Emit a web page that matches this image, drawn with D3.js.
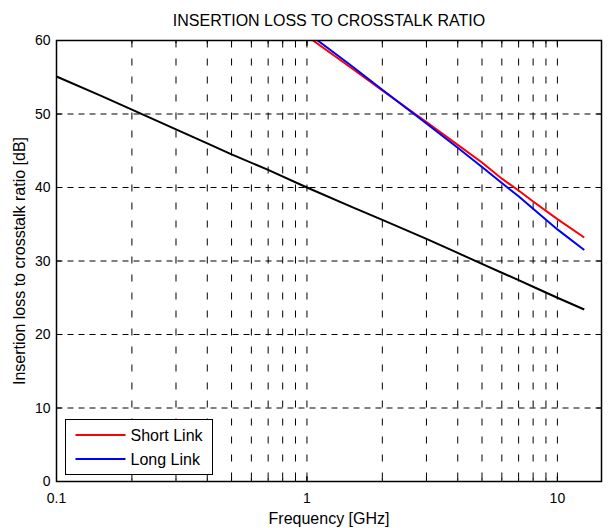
<!DOCTYPE html>
<html>
<head>
<meta charset="utf-8">
<script src="https://d3js.org/d3.v7.min.js"></script>
<style>
  body { margin: 0; background: #fff; }
  text { font-family: "Liberation Sans", Arial, sans-serif; fill: #000; }
</style>
</head>
<body>
<div id="graph"></div>
<script>

// data
var freqRef = [0.1, 0.15, 0.2, 0.3, 0.4, 0.5, 0.7, 1, 1.5, 2, 3, 4, 5, 6, 7, 8, 10, 12.8];
var ilRef   = [55.1, 52.5, 50.6, 47.9, 46.0, 44.5, 42.4, 40.0, 37.4, 35.6, 33.0, 31.1, 29.6, 28.4, 27.4, 26.5, 25.0, 23.4];

var freqLinks = [1, 1.5, 2, 3, 4, 5, 6, 7, 8, 10, 12.8];
var shortLink = [60.6, 56.3, 53.2, 48.9, 45.8, 43.4, 41.2, 39.6, 38.1, 35.7, 33.2];
var longLink  = [61.1, 56.6, 53.3, 48.7, 45.4, 42.8, 40.6, 38.8, 37.1, 34.3, 31.5];

var xMajor = [0.1, 1, 10];
var xLabels = ["0.1", "1", "10"];
var yTicks = [0, 10, 20, 30, 40, 50, 60];

var series = [
  {name: "Short Link", freq: freqLinks, vals: shortLink, color: "#ff0000"},
  {name: "Long Link",  freq: freqLinks, vals: longLink,  color: "#0000ff"},
  {name: "ref",        freq: freqRef,   vals: ilRef,     color: "#000000"}
];

var W = 613, H = 528;
var margin = {top: 40.5, right: 11.5, bottom: 46.5, left: 56.5};
var width = W - margin.left - margin.right,
    height = H - margin.top - margin.bottom;

var svg = d3.select("#graph").append("svg")
    .attr("width", W).attr("height", H);

var g = svg.append("g")
    .attr("transform", "translate(" + margin.left + "," + margin.top + ")");

var x = d3.scaleLog().domain([0.1, 15]).range([0, width]);
var y = d3.scaleLinear().domain([0, 60]).range([height, 0]);

// minor positions for the log axis
var xMinor = [];
[0.1, 1, 10].forEach(function(dec) {
  for (var k = 1; k <= 9; k++) {
    var v = dec * k;
    if (v > 0.1 && v < 15) xMinor.push(v);
  }
});

// grid
g.append("g").selectAll("line").data(xMinor).enter().append("line")
    .attr("x1", function(d) { return x(d); }).attr("x2", function(d) { return x(d); })
    .attr("y1", 0).attr("y2", height)
    .attr("stroke", "#000").attr("stroke-width", 1)
    .attr("stroke-dasharray", "7,11");

g.append("g").selectAll("line").data(yTicks.slice(1, -1)).enter().append("line")
    .attr("x1", 0).attr("x2", width)
    .attr("y1", function(d) { return y(d); }).attr("y2", function(d) { return y(d); })
    .attr("stroke", "#000").attr("stroke-width", 1)
    .attr("stroke-dasharray", "6,5");

// curves
g.append("clipPath").attr("id", "clip").append("rect")
    .attr("width", width).attr("height", height);

var line = d3.line()
    .x(function(d) { return x(d[0]); })
    .y(function(d) { return y(d[1]); });

g.append("g").attr("clip-path", "url(#clip)")
  .selectAll("path").data(series).enter().append("path")
    .attr("d", function(s) { return line(d3.zip(s.freq, s.vals)); })
    .attr("fill", "none")
    .attr("stroke", function(s) { return s.color; })
    .attr("stroke-width", 2);

// box
g.append("rect").attr("width", width).attr("height", height)
    .attr("fill", "none").attr("stroke", "#000").attr("stroke-width", 1.5);

// ticks, inward on all sides
var ticks = g.append("g").attr("stroke", "#000").attr("stroke-width", 1);
xMinor.concat(xMajor.slice(1)).forEach(function(v) {
  var len = xMajor.indexOf(v) >= 0 ? 5 : 3;
  ticks.append("line").attr("x1", x(v)).attr("x2", x(v)).attr("y1", height).attr("y2", height - len);
  ticks.append("line").attr("x1", x(v)).attr("x2", x(v)).attr("y1", 0).attr("y2", len);
});
yTicks.forEach(function(v) {
  ticks.append("line").attr("x1", 0).attr("x2", 5).attr("y1", y(v)).attr("y2", y(v));
  ticks.append("line").attr("x1", width).attr("x2", width - 5).attr("y1", y(v)).attr("y2", y(v));
});

// tick labels
g.append("g").selectAll("text").data(xMajor).enter().append("text")
    .attr("x", function(d) { return x(d); })
    .attr("y", height + 21)
    .attr("text-anchor", "middle")
    .attr("font-size", "14px")
    .text(function(d, i) { return xLabels[i]; });

g.append("g").selectAll("text").data(yTicks).enter().append("text")
    .attr("x", -6)
    .attr("y", function(d) { return y(d); })
    .attr("dy", "0.35em")
    .attr("text-anchor", "end")
    .attr("font-size", "14px")
    .text(function(d) { return d; });

// axis labels and title
svg.append("text")
    .attr("x", margin.left + width / 2).attr("y", 524)
    .attr("text-anchor", "middle").attr("font-size", "16px")
    .text("Frequency [GHz]");

svg.append("text")
    .attr("transform", "translate(25," + (margin.top + height / 2) + ") rotate(-90)")
    .attr("text-anchor", "middle").attr("font-size", "16px")
    .text("Insertion loss to crosstalk ratio [dB]");

svg.append("text")
    .attr("x", margin.left + width / 2).attr("y", 26)
    .attr("text-anchor", "middle").attr("font-size", "16px")
    .text("INSERTION LOSS TO CROSSTALK RATIO");

// legend
var legend = svg.append("g").attr("transform", "translate(65.5,419.5)");
legend.append("rect").attr("width", 147).attr("height", 55)
    .attr("fill", "#fff").attr("stroke", "#000").attr("stroke-width", 1);

var items = legend.selectAll(".item").data(series.slice(0, 2)).enter().append("g")
    .attr("class", "item")
    .attr("transform", function(d, i) { return "translate(0," + (15.5 + i * 24) + ")"; });
items.append("line").attr("x1", 10).attr("x2", 60)
    .attr("stroke", function(d) { return d.color; }).attr("stroke-width", 2);
items.append("text").attr("x", 65).attr("dy", "0.35em")
    .attr("font-size", "16px")
    .text(function(d) { return d.name; });

</script>
</body>
</html>
